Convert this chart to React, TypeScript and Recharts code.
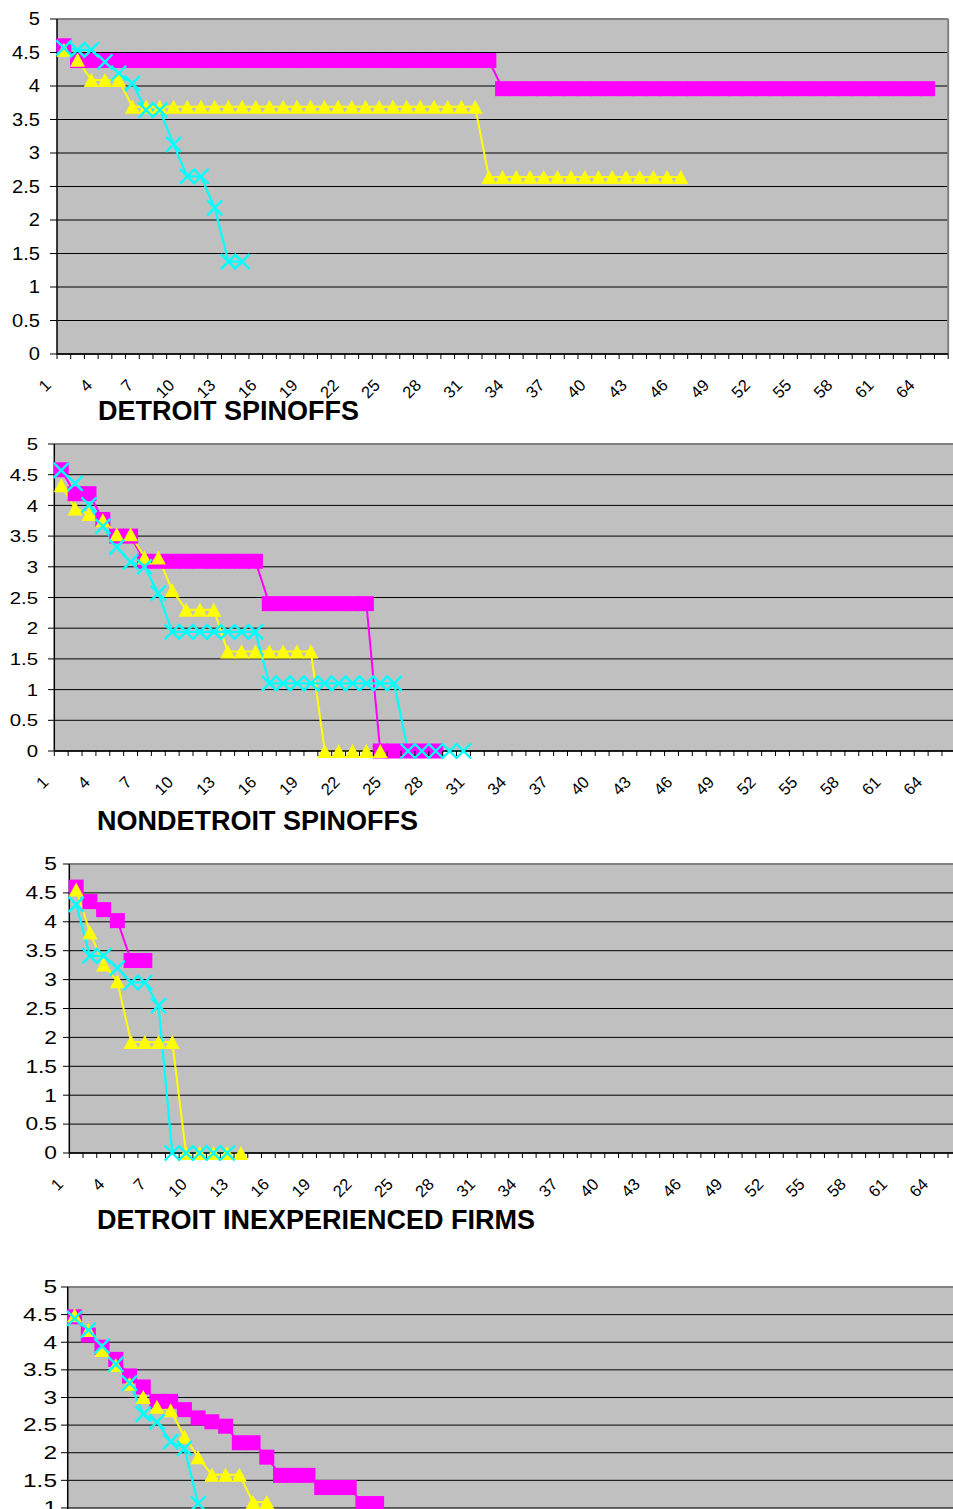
import React from 'react';
import { LineChart, Line, XAxis, YAxis, CartesianGrid, ReferenceLine } from 'recharts';

// Category axis (firm rank) and tick labels
const categories = [
  1, 2, 3, 4, 5, 6, 7, 8, 9, 10, 11, 12, 13, 14, 15, 16, 17, 18, 19, 20,
  21, 22, 23, 24, 25, 26, 27, 28, 29, 30, 31, 32, 33, 34, 35, 36, 37, 38, 39, 40,
  41, 42, 43, 44, 45, 46, 47, 48, 49, 50, 51, 52, 53, 54, 55, 56, 57, 58, 59, 60,
  61, 62, 63, 64, 65,
];
const xTickLabels = [1, 4, 7, 10, 13, 16, 19, 22, 25, 28, 31, 34, 37, 40, 43, 46, 49, 52, 55, 58, 61, 64];
const yTicks = [0, 0.5, 1, 1.5, 2, 2.5, 3, 3.5, 4, 4.5, 5];

// DETROIT SPINOFFS
const detroitSpinoffsA = [
  4.6, 4.38, 4.38, 4.38, 4.38, 4.38, 4.38, 4.38, 4.38, 4.38, 4.38, 4.38, 4.38, 4.38, 4.38, 4.38,
  4.38, 4.38, 4.38, 4.38, 4.38, 4.38, 4.38, 4.38, 4.38, 4.38, 4.38, 4.38, 4.38, 4.38, 4.38, 4.38,
  3.96, 3.96, 3.96, 3.96, 3.96, 3.96, 3.96, 3.96, 3.96, 3.96, 3.96, 3.96, 3.96, 3.96, 3.96, 3.96,
  3.96, 3.96, 3.96, 3.96, 3.96, 3.96, 3.96, 3.96, 3.96, 3.96, 3.96, 3.96, 3.96, 3.96, 3.96, 3.96,
];
const detroitSpinoffsB = [
  4.54, 4.39, 4.09, 4.09, 4.09, 3.69, 3.69, 3.69, 3.69, 3.69, 3.69, 3.69, 3.69, 3.69, 3.69, 3.69,
  3.69, 3.69, 3.69, 3.69, 3.69, 3.69, 3.69, 3.69, 3.69, 3.69, 3.69, 3.69, 3.69, 3.69, 3.69,
  2.64, 2.64, 2.64, 2.64, 2.64, 2.64, 2.64, 2.64, 2.64, 2.64, 2.64, 2.64, 2.64, 2.64, 2.64,
];
const detroitSpinoffsC = [4.57, 4.54, 4.54, 4.36, 4.19, 4.04, 3.64, 3.64, 3.13, 2.65, 2.65, 2.18, 1.38, 1.38];

// NONDETROIT SPINOFFS
const nondetroitSpinoffsA = [
  4.58, 4.19, 4.19, 3.77, 3.5, 3.5, 3.09, 3.09, 3.09, 3.09, 3.09, 3.09, 3.09, 3.09, 3.09,
  2.4, 2.4, 2.4, 2.4, 2.4, 2.4, 2.4, 2.4, 0, 0, 0, 0, 0,
];
const nondetroitSpinoffsB = [
  4.33, 3.95, 3.86, 3.76, 3.53, 3.53, 3.15, 3.15, 2.62, 2.3, 2.3, 2.3,
  1.62, 1.62, 1.62, 1.62, 1.62, 1.62, 1.62, 0, 0, 0, 0, 0,
];
const nondetroitSpinoffsC = [
  4.57, 4.36, 4.01, 3.66, 3.32, 3.08, 3.0, 2.57, 1.94, 1.94, 1.94, 1.94, 1.94, 1.94, 1.94,
  1.1, 1.1, 1.1, 1.1, 1.1, 1.1, 1.1, 1.1, 1.1, 1.1, 0, 0, 0, 0, 0,
];

// DETROIT INEXPERIENCED FIRMS
const detroitInexperiencedA = [4.6, 4.35, 4.21, 4.02, 3.33, 3.33];
const detroitInexperiencedB = [4.56, 3.82, 3.26, 2.97, 1.92, 1.92, 1.92, 1.92, 0, 0, 0, 0, 0];
const detroitInexperiencedC = [4.3, 3.41, 3.41, 3.2, 2.95, 2.95, 2.55, 0, 0, 0, 0, 0];

// Fourth group
const fourthGroupA = [
  4.46, 4.13, 3.91, 3.69, 3.39, 3.19, 2.93, 2.93, 2.78, 2.63, 2.56, 2.48, 2.18, 2.18, 1.92,
  1.59, 1.59, 1.59, 1.37, 1.37, 1.37, 1.08, 1.08,
];
const fourthGroupB = [4.49, 4.22, 3.86, 3.59, 3.25, 3.01, 2.83, 2.77, 2.29, 1.92, 1.6, 1.6, 1.6, 1.11, 1.11];
const fourthGroupC = [4.43, 4.22, 3.93, 3.6, 3.26, 2.7, 2.56, 2.2, 2.08, 1.08];

const MAGENTA = '#FF00FF';
const YELLOW = '#FFFF00';
const CYAN = '#00FFFF';
const PLOT_BG = '#C0C0C0';
const FONT = '"Liberation Sans", Arial, sans-serif';

type Panel = {
  title: string;
  a: number[];
  b: number[];
  c: number[];
  plotLeft: number;
  plotTop: number;
  plotBottom: number;
  catW: number;
  labelRight: number;
  tickStart: number;
  yFont: number;
  ySx: number;
  titleX: number;
  titleY: number;
};

const panels: Panel[] = [
  {
    title: 'DETROIT SPINOFFS', a: detroitSpinoffsA, b: detroitSpinoffsB, c: detroitSpinoffsC,
    plotLeft: 57, plotTop: 19, plotBottom: 354, catW: 13.71,
    labelRight: 40, tickStart: 50, yFont: 17.5, ySx: 1.15, titleX: 98, titleY: 420,
  },
  {
    title: 'NONDETROIT SPINOFFS', a: nondetroitSpinoffsA, b: nondetroitSpinoffsB, c: nondetroitSpinoffsC,
    plotLeft: 54.3, plotTop: 444, plotBottom: 751, catW: 13.87,
    labelRight: 38, tickStart: 48, yFont: 17, ySx: 1.2, titleX: 97, titleY: 830,
  },
  {
    title: 'DETROIT INEXPERIENCED FIRMS', a: detroitInexperiencedA, b: detroitInexperiencedB, c: detroitInexperiencedC,
    plotLeft: 69.3, plotTop: 864.3, plotBottom: 1153.3, catW: 13.73,
    labelRight: 57, tickStart: 63, yFont: 17.5, ySx: 1.3, titleX: 97, titleY: 1229,
  },
  {
    title: '', a: fourthGroupA, b: fourthGroupB, c: fourthGroupC,
    plotLeft: 67.7, plotTop: 1286.7, plotBottom: 1562.9, catW: 13.73,
    labelRight: 57, tickStart: 61, yFont: 17.5, ySx: 1.4, titleX: 97, titleY: 1640,
  },
];

const boundaryTicks = [0, ...categories].map((c) => c + 0.5);
const xTicks = [...boundaryTicks, ...xTickLabels];

const squareDot = (props: any) => {
  const { cx, cy, index, value } = props;
  if (cx == null || cy == null || value == null) return <g key={`sq-${index}`} />;
  return <rect key={`sq-${index}`} x={cx - 7.5} y={cy - 7.5} width={15} height={15} fill={MAGENTA} />;
};

const triangleDot = (props: any) => {
  const { cx, cy, index, value } = props;
  if (cx == null || cy == null || value == null) return <g key={`tr-${index}`} />;
  const w = 15;
  const h = 14;
  return (
    <path
      key={`tr-${index}`}
      d={`M${cx},${cy - h / 2} L${cx + w / 2},${cy + h / 2} L${cx - w / 2},${cy + h / 2} Z`}
      fill={YELLOW}
    />
  );
};

const crossDot = (props: any) => {
  const { cx, cy, index, value } = props;
  if (cx == null || cy == null || value == null) return <g key={`cr-${index}`} />;
  const r = 7.5;
  return (
    <path
      key={`cr-${index}`}
      d={`M${cx - r},${cy - r} L${cx + r},${cy + r} M${cx - r},${cy + r} L${cx + r},${cy - r}`}
      stroke={CYAN}
      strokeWidth={2.4}
      fill="none"
    />
  );
};

const TOP_MARGIN = 12;
const X_AXIS_H = 60;

function PanelChart({ p }: { p: Panel }) {
  const chartTop = p.plotTop - TOP_MARGIN;
  const plotRight = p.plotLeft + categories.length * p.catW;
  const width = Math.ceil(plotRight + 4);
  const axisY = p.plotBottom - chartTop;
  const height = axisY + X_AXIS_H;
  const rows = categories.map((cat, i) => ({
    x: cat,
    a: p.a[i] ?? null,
    b: p.b[i] ?? null,
    c: p.c[i] ?? null,
  }));

  const XTick = (props: any) => {
    const { x, payload } = props;
    const v = payload.value;
    if (!Number.isInteger(v)) {
      return <line x1={x} x2={x} y1={axisY} y2={axisY + 5} stroke="#000" strokeWidth={1} />;
    }
    const tx = x - 16;
    const ty = axisY + 28;
    return (
      <text
        x={tx}
        y={ty}
        dy="0.36em"
        textAnchor="end"
        transform={`rotate(-45, ${tx}, ${ty})`}
        fontFamily={FONT}
        fontSize={16.5}
        fill="#000"
      >
        {v}
      </text>
    );
  };

  const YTick = (props: any) => {
    const { y, payload } = props;
    return (
      <g>
        <line x1={p.tickStart} x2={p.plotLeft} y1={y} y2={y} stroke="#000" strokeWidth={1} />
        <g transform={`translate(${p.labelRight}, ${y}) scale(${p.ySx}, 1)`}>
          <text x={0} y={0} dy="0.36em" textAnchor="end" fontFamily={FONT} fontSize={p.yFont} fill="#000">
            {payload.value}
          </text>
        </g>
      </g>
    );
  };

  return (
    <div style={{ position: 'absolute', left: 0, top: chartTop }}>
      <LineChart
        width={width}
        height={height}
        data={rows}
        margin={{ top: TOP_MARGIN, right: width - plotRight, bottom: 0, left: 0 }}
      >
        <CartesianGrid vertical={false} stroke="#000" strokeWidth={1} fill={PLOT_BG} fillOpacity={1} />
        <XAxis
          dataKey="x"
          type="number"
          domain={[0.5, categories.length + 0.5]}
          ticks={xTicks}
          interval={0}
          tickLine={false}
          axisLine={{ stroke: '#000', strokeWidth: 1.5 }}
          tick={<XTick />}
          height={X_AXIS_H}
          allowDecimals
        />
        <YAxis
          type="number"
          domain={[0, 5]}
          ticks={yTicks}
          interval={0}
          tickLine={false}
          axisLine={{ stroke: '#000', strokeWidth: 1.5 }}
          tick={<YTick />}
          width={p.plotLeft}
        />
        <ReferenceLine y={5} stroke="#808080" strokeWidth={2} />
        <ReferenceLine x={categories.length + 0.5} stroke="#808080" strokeWidth={2} />
        <Line
          dataKey="a"
          stroke={MAGENTA}
          strokeWidth={2}
          dot={squareDot}
          activeDot={false}
          isAnimationActive={false}
        />
        <Line
          dataKey="b"
          stroke={YELLOW}
          strokeWidth={2}
          dot={triangleDot}
          activeDot={false}
          isAnimationActive={false}
        />
        <Line
          dataKey="c"
          stroke={CYAN}
          strokeWidth={2.2}
          dot={crossDot}
          activeDot={false}
          isAnimationActive={false}
        />
      </LineChart>
    </div>
  );
}

export default function App() {
  return (
    <div
      style={{
        position: 'absolute',
        left: 0,
        top: 0,
        width: 953,
        height: 1509,
        overflow: 'hidden',
        background: '#fff',
      }}
    >
      {panels.map((p, i) => (
        <PanelChart key={i} p={p} />
      ))}
      <svg width={953} height={1509} style={{ position: 'absolute', left: 0, top: 0, pointerEvents: 'none' }}>
        {panels
          .filter((p) => p.title)
          .map((p, i) => (
            <text key={i} x={p.titleX} y={p.titleY} fontFamily={FONT} fontWeight="bold" fontSize={27} fill="#000">
              {p.title}
            </text>
          ))}
      </svg>
    </div>
  );
}
